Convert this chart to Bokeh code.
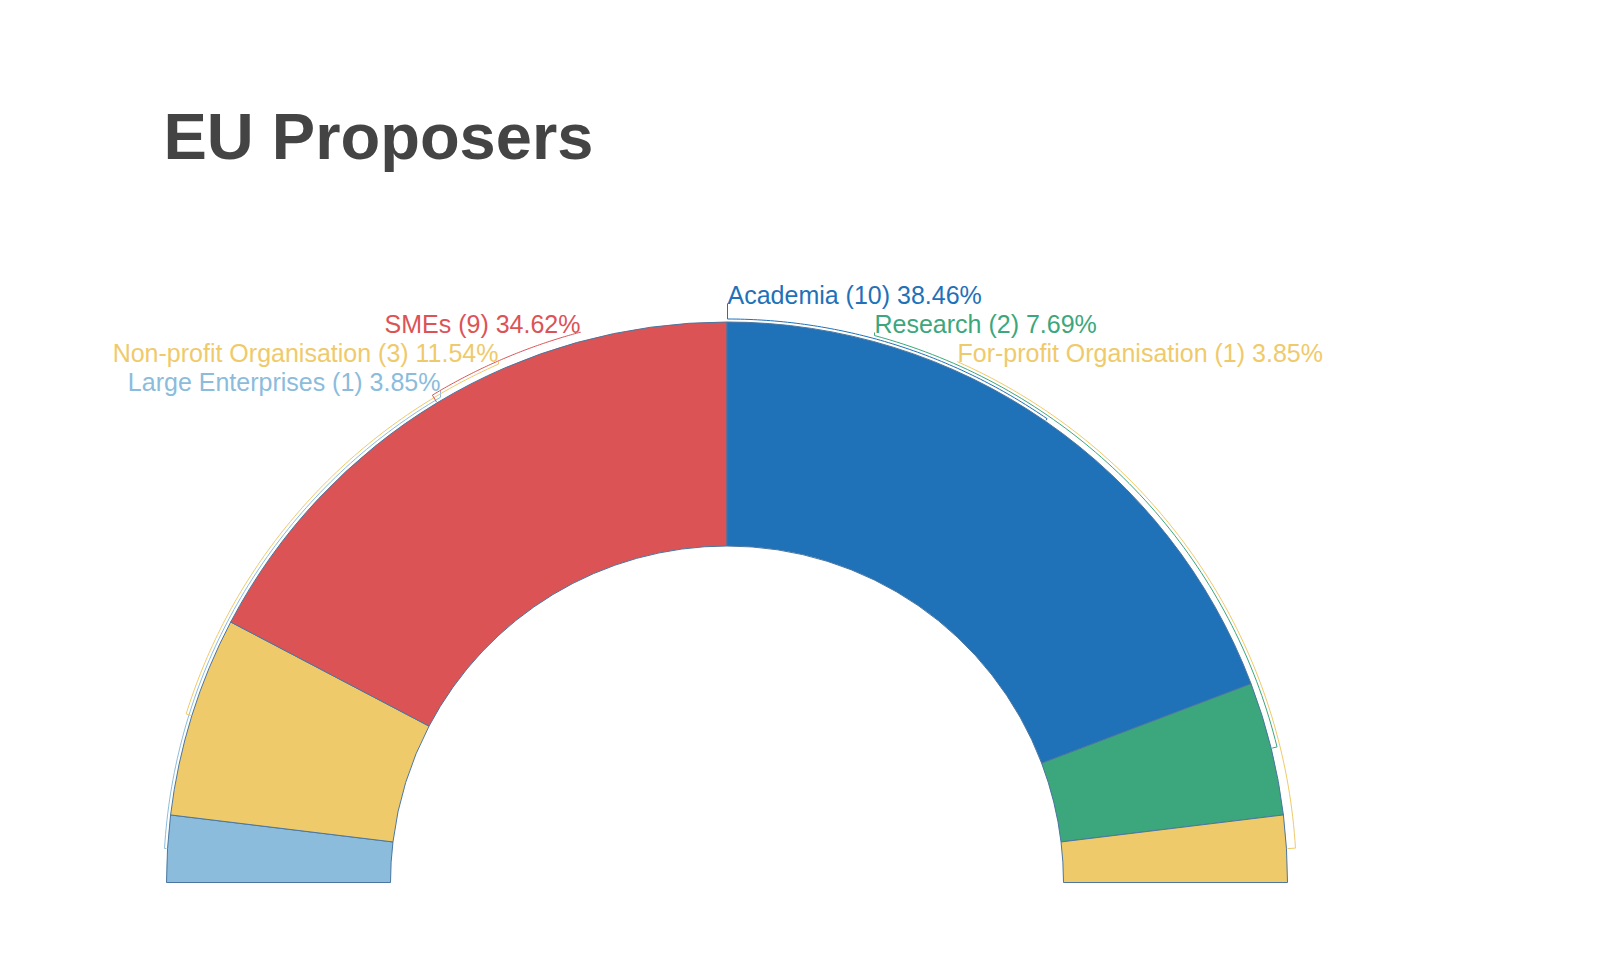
import numpy as np
from bokeh.plotting import figure
from bokeh.models import ColumnDataSource, Label
from bokeh.core.properties import value
from bokeh.embed import file_html
from bokeh.resources import INLINE

# ---- data ----
categories = ["Large Enterprises", "Non-profit Organisation", "SMEs",
              "Academia", "Research", "For-profit Organisation"]
counts = [1, 3, 9, 10, 2, 1]
colors = ["#8bbcdc", "#efca6b", "#dc5356", "#1f71b8", "#3ca77c", "#efca6b"]
title_text = "EU Proposers"

# ---- layout ----
W, H = 1603, 976
CX, CY_S = 726.5, 882        # centre in screen pixels
CY = H - CY_S
R_OUT, R_IN = 560.5, 336.5
ROW0, ROW_STEP = 303, 29     # leader join heights (screen)
label_anchor_x = [440, 498, 580, 727, 874, 957]   # where each label meets its leader
FONT = "Liberation Sans"

total = sum(counts)
cum = np.cumsum([0] + counts)
a_hi = np.pi - cum[:-1] * np.pi / total
a_lo = np.pi - cum[1:] * np.pi / total
mid = (a_hi + a_lo) / 2
label_texts = [f"{c} ({n}) {100.0 * n / total:.2f}%" for c, n in zip(categories, counts)]

p = figure(width=W, height=H, x_range=(0, W), y_range=(0, H),
           output_backend="svg", toolbar_location=None,
           x_axis_type=None, y_axis_type=None, min_border=0,
           outline_line_color=None, background_fill_color="white")
p.grid.visible = False

src = ColumnDataSource(dict(x=[CX] * len(counts), y=[CY] * len(counts),
                            start=list(a_lo), end=list(a_hi), color=colors))
p.annular_wedge(x="x", y="y", inner_radius=R_IN, outer_radius=R_OUT,
                start_angle="start", end_angle="end", direction="anticlock",
                fill_color="color", line_color="#4a76a0", line_width=1, source=src)

# label placement
right = sorted([i for i in range(len(counts)) if mid[i] < np.pi / 2], key=lambda i: -mid[i])
left = sorted([i for i in range(len(counts)) if mid[i] >= np.pi / 2], key=lambda i: mid[i])
place = {}
for k, i in enumerate(right):
    place[i] = ("right", k, 3 + 3 * k)
for k, i in enumerate(left):
    place[i] = ("left", k + 1, 9 - 3 * k)

xs, ys, lcols = [], [], []
lt = dict(left=dict(x=[], y=[], t=[], c=[]), right=dict(x=[], y=[], t=[], c=[]))
for i in range(len(counts)):
    side, row, off = place[i]
    base = ROW0 + ROW_STEP * row
    rl = R_OUT + off
    xa = label_anchor_x[i]
    th = np.arccos(np.clip((xa - CX) / rl, -1, 1))
    angs = np.linspace(th, mid[i], 80)
    px = [xa] + list(CX + rl * np.cos(angs)) + [CX + (R_OUT + 1) * np.cos(mid[i])]
    py_s = [base] + list(CY_S - rl * np.sin(angs)) + [CY_S - (R_OUT + 1) * np.sin(mid[i])]
    xs.append(px)
    ys.append([H - v for v in py_s])
    lcols.append(colors[i])
    d = lt[side]
    d["x"].append(xa)
    d["y"].append(H - (base - 9))
    d["t"].append(label_texts[i])
    d["c"].append(colors[i])

p.multi_line(xs=xs, ys=ys, line_color=lcols, line_width=1)

for side, align in (("left", "right"), ("right", "left")):
    d = lt[side]
    p.text(x=d["x"], y=d["y"], text=d["t"], text_color=d["c"],
           text_align=align, text_baseline="alphabetic",
           text_font=value(FONT), text_font_size="25px")

p.add_layout(Label(x=163, y=H - 136, text=title_text, text_font=FONT,
                   text_font_size="65px", text_font_style="bold",
                   text_color="#444444", text_baseline="alphabetic"))

open("out.html", "w").write(file_html(p, INLINE))
